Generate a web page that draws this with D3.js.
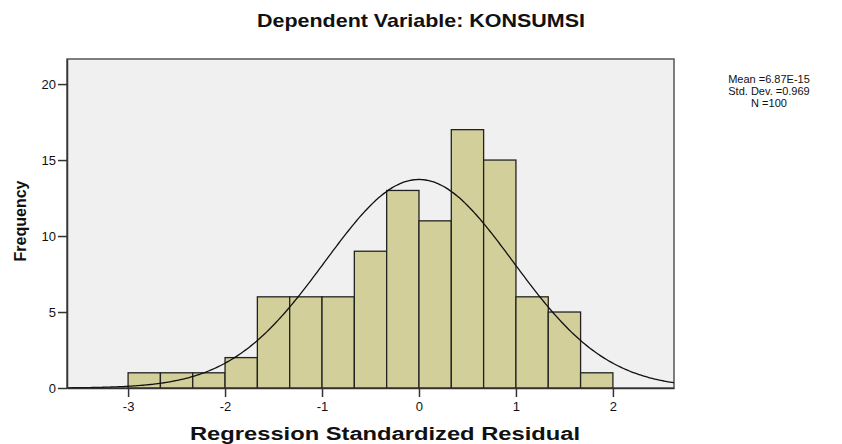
<!DOCTYPE html>
<html><head><meta charset="utf-8">
<script src="https://cdn.jsdelivr.net/npm/d3@7"></script>
<style>body{margin:0;background:#fff;} svg{display:block;font-family:"Liberation Sans",Arial,sans-serif;}</style>
</head><body>
<svg id="c" width="842" height="444"></svg>
<script>
const binStarts = [-3, -2.6667, -2.3333, -2, -1.6667, -1.3333, -1, -0.6667, -0.3333, 0, 0.3333, 0.6667, 1, 1.3333, 1.6667];
const binWidth = 1/3;
const counts = [1, 1, 1, 2, 6, 6, 6, 9, 13, 11, 17, 15, 6, 5, 1];
const xTicks = [-3, -2, -1, 0, 1, 2];
const yTicks = [0, 5, 10, 15, 20];
const meanVal = 6.87e-15, sdVal = 0.969, nVal = 100;
const legendLines = ["Mean =6.87E-15", "Std. Dev. =0.969", "N =100"];

const svg = d3.select("#c");
const L = 67, R = 674, T = 59, B = 388;
const x = d3.scaleLinear().domain([-3.63, 2.63]).range([L, R]);
const y = d3.scaleLinear().domain([0, 21.65]).range([B, T]);

svg.append("rect").attr("x", L).attr("y", T).attr("width", R - L).attr("height", B - T)
  .attr("fill", "#f0f0f0").attr("stroke", "#555").attr("stroke-width", 1.5);

svg.append("g").selectAll("rect").data(binStarts).join("rect")
  .attr("x", (d) => x(d)).attr("y", (d, i) => y(counts[i]))
  .attr("width", (d) => x(d + binWidth) - x(d)).attr("height", (d, i) => y(0) - y(counts[i]))
  .attr("fill", "#d3cf9a").attr("stroke", "#222").attr("stroke-width", 1.3);

// normal curve from the stated mean / std. dev. / N
const pts = d3.range(-3.63, 2.631, 0.02).map(v => [v, nVal * binWidth * Math.exp(-0.5 * ((v - meanVal) / sdVal) ** 2) / (sdVal * Math.sqrt(2 * Math.PI))]);
svg.append("path").datum(pts).attr("fill", "none").attr("stroke", "#111").attr("stroke-width", 1.3)
  .attr("d", d3.line().x(d => x(d[0])).y(d => y(d[1])).curve(d3.curveBasis));

const fmt = d => String(d);
const xa = svg.append("g").attr("transform", `translate(0,${B})`)
  .call(d3.axisBottom(x).tickValues(xTicks).tickSize(9).tickSizeOuter(0).tickFormat(fmt));
xa.select(".domain").attr("stroke", "#333").attr("stroke-width", 1.5);
xa.selectAll(".tick line").attr("stroke", "#333").attr("stroke-width", 1.5);
xa.selectAll(".tick text").attr("font-size", 13).attr("fill", "#111").attr("dy", "0.85em").attr("font-family", "Liberation Sans, Arial, sans-serif");

const ya = svg.append("g").attr("transform", `translate(${L},0)`)
  .call(d3.axisLeft(y).tickValues(yTicks).tickSize(9).tickSizeOuter(0).tickFormat(fmt));
ya.select(".domain").attr("stroke", "#333").attr("stroke-width", 1.5);
ya.selectAll(".tick line").attr("stroke", "#333").attr("stroke-width", 1.5);
ya.selectAll(".tick text").attr("font-size", 13).attr("fill", "#111").attr("x", -11).attr("font-family", "Liberation Sans, Arial, sans-serif");

svg.append("text").attr("x", 257).attr("y", 27)
  .attr("font-size", 19).attr("font-weight", "bold").attr("fill", "#111")
  .attr("textLength", 328).attr("lengthAdjust", "spacingAndGlyphs").text("Dependent Variable: KONSUMSI");

svg.append("text").attr("x", 190).attr("y", 440)
  .attr("font-size", 18).attr("font-weight", "bold").attr("fill", "#111")
  .attr("textLength", 390).attr("lengthAdjust", "spacingAndGlyphs").text("Regression Standardized Residual");

svg.append("text").attr("transform", "translate(26,221) rotate(-90)").attr("text-anchor", "middle")
  .attr("font-size", 16).attr("font-weight", "bold").attr("fill", "#111").text("Frequency");

svg.append("g").selectAll("text").data(legendLines).join("text")
  .attr("x", 769).attr("y", (d, i) => 83 + i * 12).attr("text-anchor", "middle")
  .attr("font-size", 11).attr("fill", "#111").text(d => d);
</script>
</body></html>
